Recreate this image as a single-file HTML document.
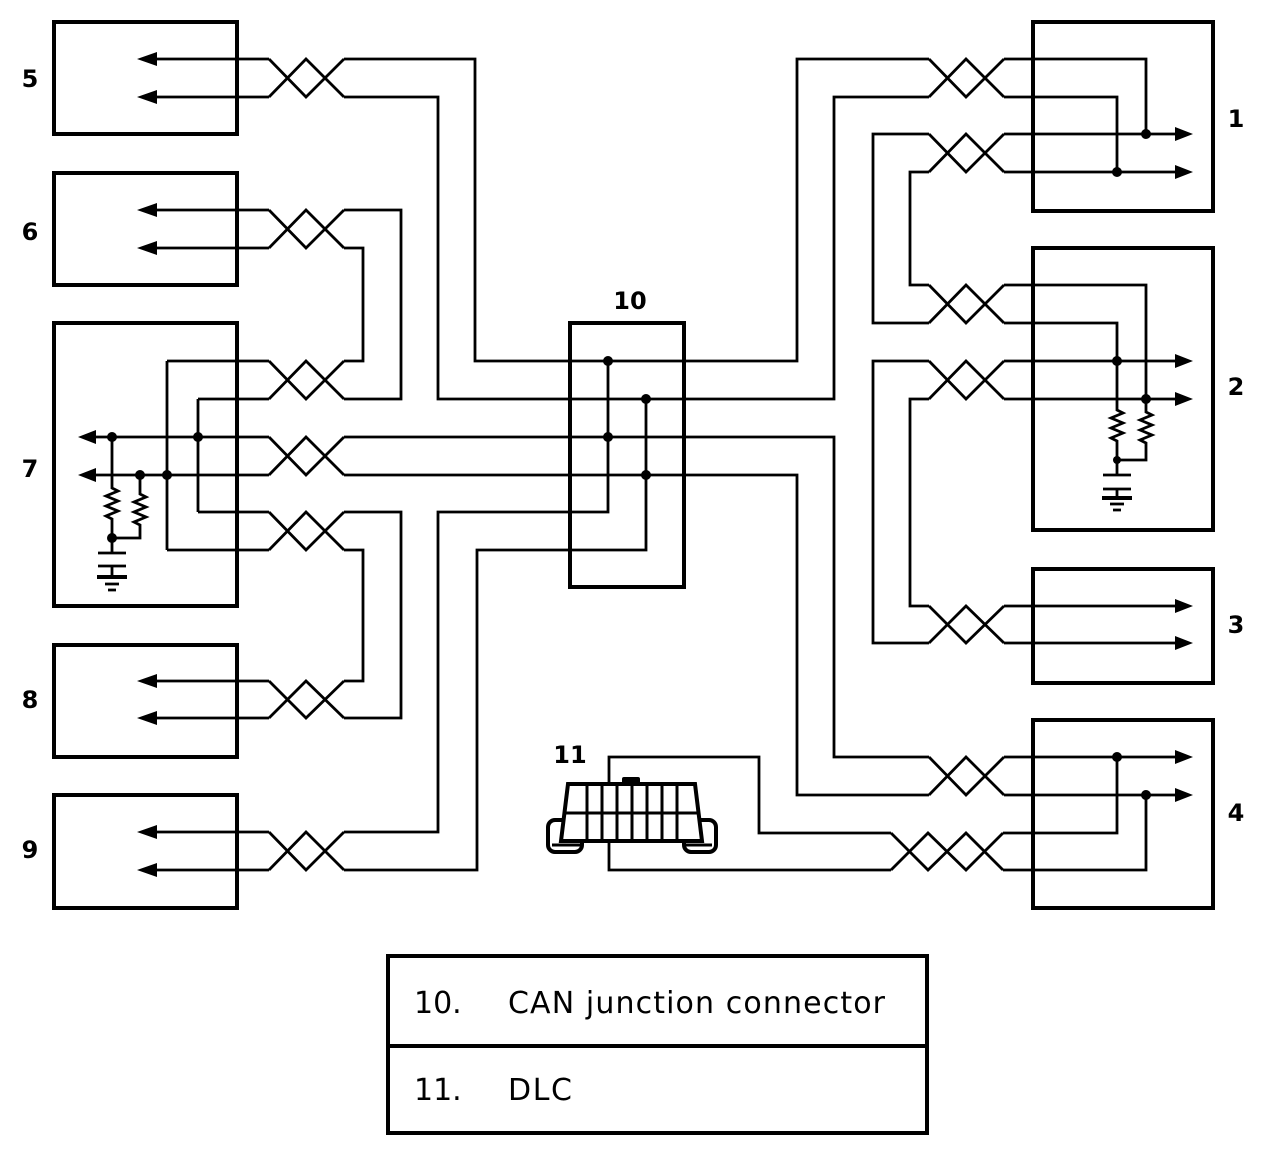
<!DOCTYPE html>
<html><head><meta charset="utf-8"><style>
html,body{margin:0;padding:0;background:#fff}
svg{display:block}
text{font-family:"DejaVu Sans","Liberation Sans",sans-serif;fill:#000}
</style></head><body>
<svg width="1280" height="1152" viewBox="0 0 1280 1152" xmlns="http://www.w3.org/2000/svg">
<g fill="none" stroke="#000" stroke-width="4">
<rect x="54" y="22" width="183" height="112"/>
<rect x="54" y="173" width="183" height="112"/>
<rect x="54" y="323" width="183" height="283"/>
<rect x="54" y="645" width="183" height="112"/>
<rect x="54" y="795" width="183" height="113"/>
<rect x="570" y="323" width="114" height="264"/>
<rect x="1033" y="22" width="180" height="189"/>
<rect x="1033" y="248" width="180" height="282"/>
<rect x="1033" y="569" width="180" height="114"/>
<rect x="1033" y="720" width="180" height="188"/>
<rect x="388" y="956" width="539" height="177"/>
<line x1="388" y1="1046" x2="927" y2="1046"/>
</g>
<g fill="none" stroke="#000" stroke-width="2.8" stroke-linejoin="miter">
<path d="M269 59 L306 97 L344 59 M269 97 L306 59 L344 97"/>
<path d="M269 210 L306 248 L344 210 M269 248 L306 210 L344 248"/>
<path d="M269 361 L306 399 L344 361 M269 399 L306 361 L344 399"/>
<path d="M269 437 L306 475 L344 437 M269 475 L306 437 L344 475"/>
<path d="M269 512 L306 550 L344 512 M269 550 L306 512 L344 550"/>
<path d="M269 681 L306 718 L344 681 M269 718 L306 681 L344 718"/>
<path d="M269 832 L306 870 L344 832 M269 870 L306 832 L344 870"/>
<path d="M929 59 L966 97 L1004 59 M929 97 L966 59 L1004 97"/>
<path d="M929 134 L966 172 L1004 134 M929 172 L966 134 L1004 172"/>
<path d="M929 285 L966 323 L1004 285 M929 323 L966 285 L1004 323"/>
<path d="M929 361 L966 399 L1004 361 M929 399 L966 361 L1004 399"/>
<path d="M929 606 L966 643 L1004 606 M929 643 L966 606 L1004 643"/>
<path d="M929 757 L966 795 L1004 757 M929 795 L966 757 L1004 795"/>
<path d="M891 833 L928 870 L966 833 L1003 870 M891 870 L928 833 L966 870 L1003 833"/>
<path d="M150 59 H269 M150 97 H269 M150 210 H269 M150 248 H269 M150 681 H269 M150 718 H269 M150 832 H269 M150 870 H269"/>
<path d="M90 437 H269 M90 475 H269 M167 361 H269 M198 399 H269 M198 512 H269 M167 550 H269 M167 361 V550 M198 399 V512"/>
<path d="M344 59 H475 V361 H797 V59 H929"/>
<path d="M344 97 H438 V399 H834 V97 H929"/>
<path d="M344 210 H401 V399 H344"/>
<path d="M344 248 H363 V361 H344"/>
<path d="M344 437 H834 V757 H929"/>
<path d="M344 475 H797 V795 H929"/>
<path d="M344 512 H401 V718 H344"/>
<path d="M344 550 H363 V681 H344"/>
<path d="M344 832 H438 V512 H608 V361"/>
<path d="M344 870 H477 V550 H646 V399"/>
<path d="M112 437 V488 l6 3 l-12 5 l12 5 l-12 5 l12 5 l-12 5 l6 3 V553"/>
<path d="M140 475 V494 l6 3 l-12 5 l12 5 l-12 5 l12 5 l-12 5 l6 3 V538 H112"/>
<path d="M98 553 H126 M98 566 H126 M112 566 V577 M105 584 H119 M108 590 H116"/>
<path d="M97 577 H127" stroke-width="4"/>
<path d="M1004 59 H1146 V134 M1004 97 H1117 V172"/>
<path d="M1004 134 H1180 M1004 172 H1180"/>
<path d="M929 134 H873 V323 H929 M929 172 H910 V285 H929"/>
<path d="M1004 285 H1146 V412 l6 3 l-12 5 l12 5 l-12 5 l12 5 l-12 5 l6 3 V460 H1117"/>
<path d="M1004 323 H1117 V410 l6 3 l-12 5 l12 5 l-12 5 l12 5 l-12 5 l6 3 V475"/>
<path d="M1103 475 H1131 M1103 489 H1131 M1117 489 V498 M1110 504 H1124 M1113 510 H1121"/>
<path d="M1102 498 H1132" stroke-width="4"/>
<path d="M1004 361 H1180 M1004 399 H1180"/>
<path d="M929 361 H873 V643 H929 M929 399 H910 V606 H929"/>
<path d="M1004 606 H1180 M1004 643 H1180"/>
<path d="M1004 757 H1180 M1004 795 H1180"/>
<path d="M1117 757 V833 H1003 M1146 795 V870 H1003"/>
<path d="M891 833 H759 V757 H609 V870 H891"/>
</g>
<g fill="#000">
<path d="M137 59 L157 52 L157 66Z M137 97 L157 90 L157 104Z M137 210 L157 203 L157 217Z M137 248 L157 241 L157 255Z M137 681 L157 674 L157 688Z M137 718 L157 711 L157 725Z M137 832 L157 825 L157 839Z M137 870 L157 863 L157 877Z"/>
<path d="M78 437 L96 430 L96 444Z M78 475 L96 468 L96 482Z"/>
<path d="M1193 134 L1175 127 L1175 141Z M1193 172 L1175 165 L1175 179Z M1193 361 L1175 354 L1175 368Z M1193 399 L1175 392 L1175 406Z M1193 606 L1175 599 L1175 613Z M1193 643 L1175 636 L1175 650Z M1193 757 L1175 750 L1175 764Z M1193 795 L1175 788 L1175 802Z"/>
<circle cx="608" cy="361" r="5"/><circle cx="608" cy="437" r="5"/><circle cx="646" cy="399" r="5"/><circle cx="646" cy="475" r="5"/>
<circle cx="112" cy="437" r="5"/><circle cx="140" cy="475" r="5"/><circle cx="198" cy="437" r="5"/><circle cx="167" cy="475" r="5"/><circle cx="112" cy="538" r="5"/>
<circle cx="1146" cy="134" r="5"/><circle cx="1117" cy="172" r="5"/><circle cx="1117" cy="361" r="5"/><circle cx="1146" cy="399" r="5"/><circle cx="1117" cy="460" r="4"/>
<circle cx="1117" cy="757" r="5"/><circle cx="1146" cy="795" r="5"/>
</g>
<g fill="#fff" stroke="#000" stroke-width="4">
<rect x="548" y="820" width="34" height="32" rx="7"/>
<rect x="684" y="820" width="32" height="32" rx="7"/>
<path d="M568 784 H695 L702 841 H561 Z"/>
</g>
<g stroke="#000" stroke-width="3" fill="none">
<path d="M565 813 H699 M587 784 V841 M602 784 V841 M617 784 V841 M632 784 V841 M647 784 V841 M662 784 V841 M677 784 V841"/>
<path d="M552 845 H582 M684 845 H712"/>
</g>
<rect x="622" y="777" width="18" height="8" rx="2" fill="#000"/>
<g font-size="24" font-weight="bold" text-anchor="middle">
<text x="30" y="87">5</text><text x="30" y="240">6</text><text x="30" y="477">7</text><text x="30" y="708">8</text><text x="30" y="858">9</text>
<text x="630" y="309">10</text><text x="570" y="763">11</text>
<text x="1236" y="127">1</text><text x="1236" y="395">2</text><text x="1236" y="633">3</text><text x="1236" y="821">4</text>
</g>
<g font-size="30">
<text x="414" y="1013">10.</text><text x="508" y="1013" textLength="377" lengthAdjust="spacing">CAN junction connector</text>
<text x="414" y="1100">11.</text><text x="508" y="1100" textLength="64" lengthAdjust="spacing">DLC</text>
</g>
</svg>
</body></html>
